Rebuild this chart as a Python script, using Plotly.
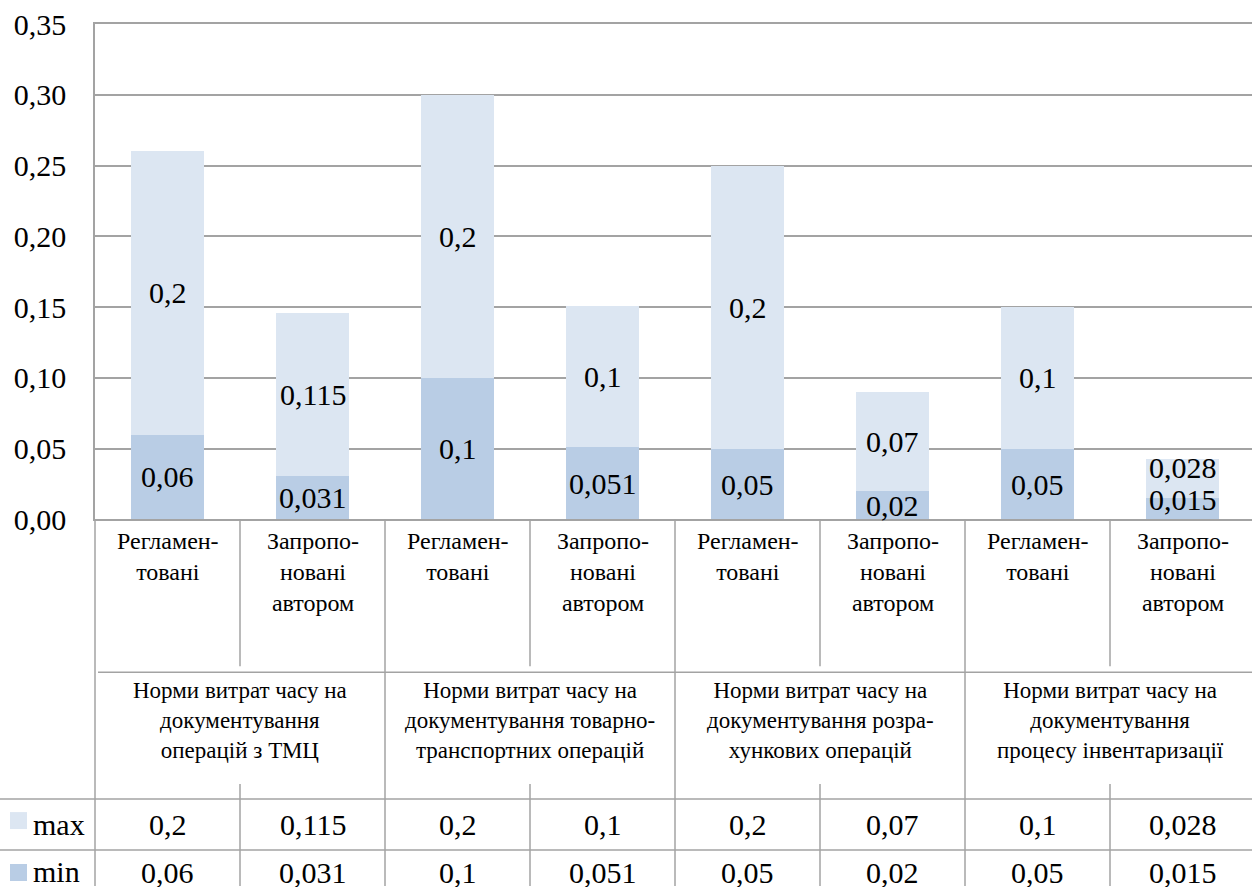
import plotly.graph_objects as go

# ---- data ----
groups = [
    "Норми витрат часу на<br>документування<br>операцій з ТМЦ",
    "Норми витрат часу на<br>документування товарно-<br>транспортних операцій",
    "Норми витрат часу на<br>документування розра-<br>хункових операцій",
    "Норми витрат часу на<br>документування<br>процесу інвентаризації",
]
subcats = ["Регламен-<br>товані", "Запропо-<br>новані<br>автором"] * 4
series_names = ["max", "min"]
max_vals = [0.2, 0.115, 0.2, 0.1, 0.2, 0.07, 0.1, 0.028]
min_vals = [0.06, 0.031, 0.1, 0.051, 0.05, 0.02, 0.05, 0.015]
y_ticks = [0.0, 0.05, 0.10, 0.15, 0.20, 0.25, 0.30, 0.35]

# ---- style / geometry (target pixels are 1252x887; page is captured 903 tall) ----
TW, TH = 1252, 887
S = 903 / 887                 # vertical capture factor
W, H = TW, round(TH * S)
ML, MT = 95, 24 * S
PW, PH = W - ML, H - MT
CAT_PX = 145.0
C_MAX = "#DCE6F2"
C_MIN = "#B9CDE5"
GRID = "#A3A3A3"
FONT = "Liberation Serif"
NUM = 30

def P(py):
    """target pixel row (from top) -> paper y"""
    return (H - py * S) / PH

def PX(px):
    """target pixel column -> paper x"""
    return (px - ML) / PW

fmt = lambda v: str(v).replace(".", ",")
idx = list(range(len(subcats)))
xmax = -0.5 + PW / CAT_PX

fig = go.Figure()
fig.add_trace(go.Bar(x=idx, y=min_vals, name="min", marker=dict(color=C_MIN, line=dict(width=0)),
                     width=0.51, hoverinfo="skip"))
fig.add_trace(go.Bar(x=idx, y=max_vals, name="max", marker=dict(color=C_MAX, line=dict(width=0)),
                     width=0.51, hoverinfo="skip"))

def tfont(size):
    return dict(size=size, family=FONT, color="black")

ann = []
# bar value labels (centered in segments; last pair nudged up as in original)
shift_min = [0] * 7 + [9]
shift_max = [0] * 7 + [11]
for i in idx:
    ann.append(dict(x=i, y=min_vals[i] / 2, xref="x", yref="y", text=fmt(min_vals[i]),
                    showarrow=False, font=tfont(NUM), xanchor="center", yanchor="middle",
                    yshift=shift_min[i]))
    ann.append(dict(x=i, y=min_vals[i] + max_vals[i] / 2, xref="x", yref="y", text=fmt(max_vals[i]),
                    showarrow=False, font=tfont(NUM), xanchor="center", yanchor="middle",
                    yshift=shift_max[i]))
# category labels
for i in idx:
    ann.append(dict(x=i, y=P(527), xref="x", yref="paper", text=subcats[i], showarrow=False,
                    xanchor="center", yanchor="top", align="center", font=tfont(24)))
# group labels
for g, name in enumerate(groups):
    ann.append(dict(x=2 * g + 0.5, y=P(721), xref="x", yref="paper", text=name, showarrow=False,
                    xanchor="center", yanchor="middle", align="center", font=tfont(23)))
# table rows
for i in idx:
    ann.append(dict(x=i, y=P(825), xref="x", yref="paper", text=fmt(max_vals[i]), showarrow=False,
                    xanchor="center", yanchor="middle", font=tfont(NUM)))
    ann.append(dict(x=i, y=P(873), xref="x", yref="paper", text=fmt(min_vals[i]), showarrow=False,
                    xanchor="center", yanchor="middle", font=tfont(NUM)))
# legend names
ann.append(dict(x=PX(31), y=P(825), xref="paper", yref="paper", text=series_names[0], showarrow=False,
                xanchor="left", yanchor="middle", font=tfont(NUM)))
ann.append(dict(x=PX(31), y=P(872), xref="paper", yref="paper", text=series_names[1], showarrow=False,
                xanchor="left", yanchor="middle", font=tfont(NUM)))

shapes = []
line = dict(color=GRID, width=1.5)
# left border of table
shapes.append(dict(type="line", xref="paper", yref="paper", x0=0, x1=0, y0=P(520), y1=0, line=line))
# vertical boundaries
for k in range(len(subcats) - 1):
    b = k + 0.5
    if k % 2 == 1:  # group boundary
        shapes.append(dict(type="line", xref="x", yref="paper", x0=b, x1=b, y0=P(520), y1=0, line=line))
    else:
        shapes.append(dict(type="line", xref="x", yref="paper", x0=b, x1=b, y0=P(520), y1=P(667), line=line))
        shapes.append(dict(type="line", xref="x", yref="paper", x0=b, x1=b, y0=P(785), y1=0, line=line))
# horizontal lines
shapes.append(dict(type="line", xref="paper", yref="paper", x0=PX(98), x1=1, y0=P(673), y1=P(673), line=line))
for py_ in (800, 851):
    shapes.append(dict(type="line", xref="paper", yref="paper", x0=PX(0), x1=1, y0=P(py_), y1=P(py_), line=line))
# legend keys
for py0, col in ((813, C_MAX), (865, C_MIN)):
    shapes.append(dict(type="rect", xref="paper", yref="paper", x0=PX(10), x1=PX(27),
                       y0=P(py0 + 17), y1=P(py0), fillcolor=col, line=dict(width=0)))

fig.update_layout(
    width=W, height=H, autosize=False,
    margin=dict(l=ML, r=0, t=MT, b=0, pad=0),
    paper_bgcolor="white", plot_bgcolor="white",
    barmode="stack", bargap=0, showlegend=False,
    separators=", ",
    font=dict(family=FONT, color="black"),
    annotations=ann, shapes=shapes,
    xaxis=dict(range=[-0.5, xmax], showticklabels=False, showgrid=False, zeroline=False,
               showline=True, mirror=True, linecolor=GRID, linewidth=1.5, ticks="", fixedrange=True),
    yaxis=dict(domain=[P(520), 1], range=[0, 0.35], tickvals=y_ticks, tickformat=".2f",
               showgrid=True, gridcolor=GRID, gridwidth=1.5, zeroline=False,
               showline=True, linecolor=GRID, linewidth=1.5, ticks="",
               ticklabelstandoff=21, tickfont=tfont(NUM)),
)

fig.write_html("out.html", config={"displayModeBar": False},
               post_script="document.body.style.margin='0';document.body.style.overflow='hidden';")
